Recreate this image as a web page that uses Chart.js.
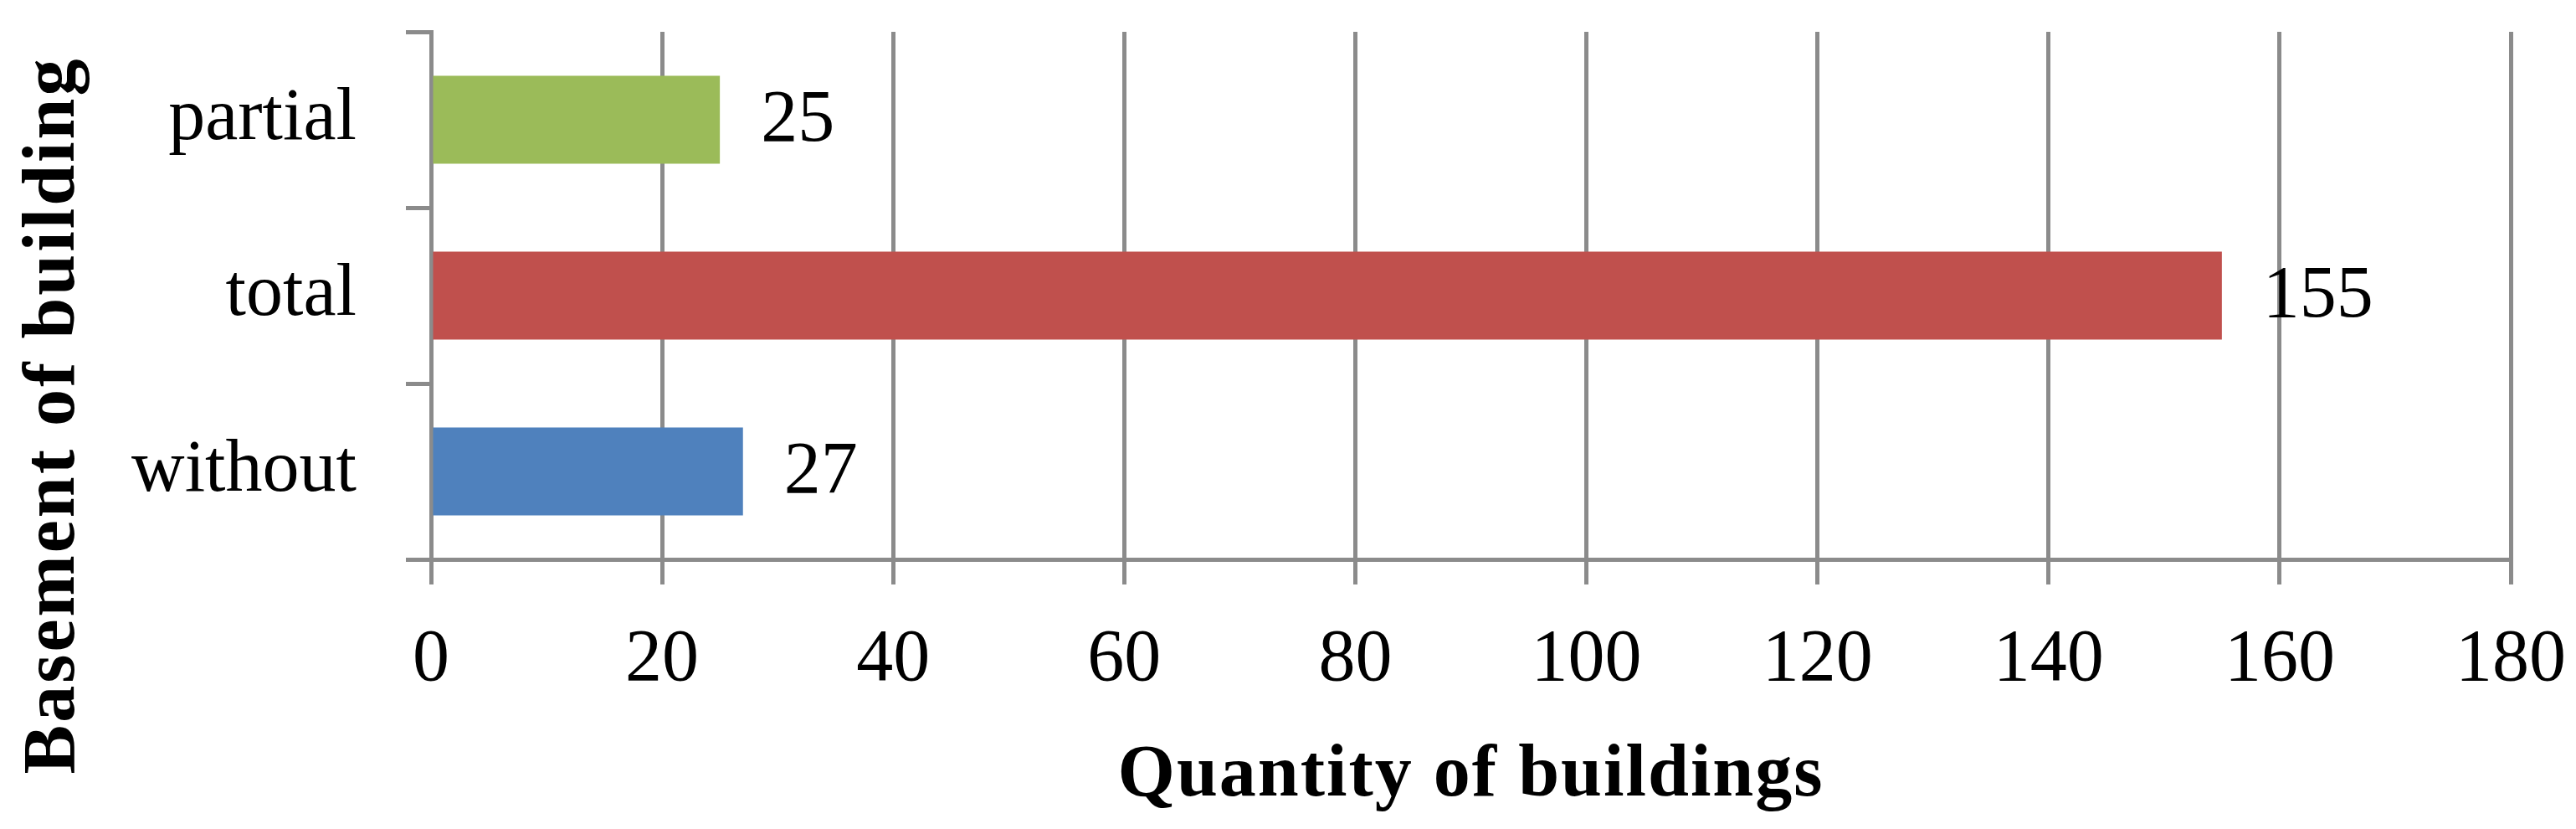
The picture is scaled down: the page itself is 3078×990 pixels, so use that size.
<!DOCTYPE html>
<html>
<head>
<meta charset="utf-8">
<script src="https://cdn.jsdelivr.net/npm/chart.js@4.4.1/dist/chart.umd.min.js"></script>
<style>
  html, body { margin: 0; padding: 0; background: #ffffff; }
  #wrap { width: 3078px; height: 990px; }
</style>
</head>
<body>
<div id="wrap"><canvas id="c" width="3078" height="990"></canvas></div>
<script>
const categories = ['partial', 'total', 'without'];
const values = [25, 155, 27];
const barColors = ['#9BBB59', '#C0504D', '#4F81BD'];
const xTickValues = [0, 20, 40, 60, 80, 100, 120, 140, 160, 180];
const xTitle = 'Quantity of buildings';
const yTitle = 'Basement of building';

const GRAY = '#8b8b8b';
const FONT = '"Liberation Serif", "Times New Roman", serif';

const titlesPlugin = {
  id: 'titles',
  afterDraw(chart) {
    const ctx = chart.ctx;
    const area = chart.chartArea;
    ctx.save();
    ctx.fillStyle = '#000';
    ctx.font = 'bold 88px ' + FONT;
    ctx.textAlign = 'center';
    ctx.textBaseline = 'alphabetic';
    try { ctx.letterSpacing = '2px'; } catch (e) {}
    ctx.fillText(xTitle, (area.left + area.right) / 2, 950);
    ctx.translate(88, 496);
    ctx.rotate(-Math.PI / 2);
    try { ctx.letterSpacing = '3px'; } catch (e) {}
    ctx.fillText(yTitle, 0, 0);
    ctx.restore();
  }
};

const valueLabels = {
  id: 'valueLabels',
  afterDatasetsDraw(chart) {
    const ctx = chart.ctx;
    const meta = chart.getDatasetMeta(0);
    ctx.save();
    ctx.fillStyle = '#000';
    ctx.font = '88px ' + FONT;
    ctx.textAlign = 'left';
    ctx.textBaseline = 'middle';
    meta.data.forEach((bar, i) => {
      ctx.fillText(String(values[i]), bar.x + 49, bar.y + 2);
    });
    ctx.restore();
  }
};

new Chart(document.getElementById('c'), {
  type: 'bar',
  data: {
    labels: categories,
    datasets: [{
      data: values,
      backgroundColor: barColors,
      borderWidth: 0,
      barPercentage: 0.5,
      categoryPercentage: 1.0
    }]
  },
  plugins: [titlesPlugin, valueLabels],
  options: {
    indexAxis: 'y',
    responsive: false,
    animation: false,
    devicePixelRatio: 1,
    layout: { padding: { left: 0, right: 78, top: 38, bottom: 0 } },
    plugins: { legend: { display: false }, tooltip: { enabled: false } },
    scales: {
      x: {
        type: 'linear',
        min: 0,
        max: 180,
        afterBuildTicks(scale) { scale.ticks = xTickValues.map(v => ({ value: v })); },
        afterFit(scale) { scale.height = 322; scale.paddingLeft = 0; scale.paddingRight = 0; },
        grid: { color: GRAY, lineWidth: 5, tickLength: 30, drawTicks: true },
        border: { display: true, color: GRAY, width: 5 },
        ticks: { color: '#000', font: { family: FONT, size: 88 }, padding: 38, maxRotation: 0 }
      },
      y: {
        afterFit(scale) { scale.width = 515; scale.paddingTop = 0; scale.paddingBottom = 0; },
        grid: { color: GRAY, lineWidth: 5, tickLength: 30, drawOnChartArea: false, drawTicks: true, offset: true },
        border: { display: true, color: GRAY, width: 5 },
        ticks: { color: '#000', font: { family: FONT, size: 88 }, padding: 59 }
      }
    }
  }
});
</script>
</body>
</html>
